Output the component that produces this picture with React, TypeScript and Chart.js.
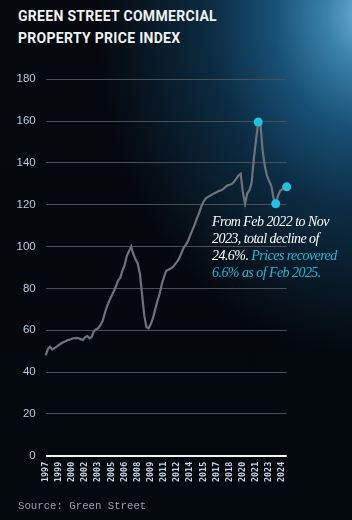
import React, { useEffect, useRef } from "react";
import { Chart, registerables } from "chart.js";

Chart.register(...registerables);

// Quarterly index values, Q3 1997 .. Q1 2025
const START_YEAR = 1997;
const START_QUARTER = 3;
const INDEX_VALUES = [
  48, 51, 52.2, 50.8, 51.5, 52.2, 53, 53.7, 54.3, 54.8,
  55.3, 55.6, 56, 56.2, 56.4, 56.2, 55.8, 55.4, 56.8, 57.3,
  56.2, 56.8, 59.5, 60.5, 61, 62.5, 64.5, 68.3, 71.5, 74,
  76.3, 78.5, 80.8, 83.8, 85, 88.5, 91, 95.5, 97.8, 100,
  96.5, 94, 92, 87, 77, 67, 61.5, 61, 63, 66,
  70, 74, 77.5, 82, 85.5, 88.5, 89, 89.5, 90.2, 91.5,
  92.8, 94.5, 97, 99.5, 101, 102.8, 105.5, 108, 110.5, 113.5,
  116, 119, 121.5, 123, 123.8, 124.3, 125, 125.5, 126, 126.6,
  127, 127.5, 128.5, 129.3, 129.6, 130, 131, 132.5, 134, 134.8,
  126, 120.5, 125.5, 127, 130.5, 142, 151, 159.6, 159, 146,
  138.5, 134, 131.3, 129, 123, 120.5, 124.2, 126.7, 127.5, 128, 128.6,
];
// Highlighted points: peak (Feb 2022), trough (Nov 2023), latest (Feb 2025)
const HIGHLIGHT_INDICES = [97, 105, 110];
// x-axis labels shown every 6 quarters
const TICK_STEP = 6;
const TICK_LABELS = [
  "1997", "1999", "2000", "2002", "2003", "2005", "2006", "2008", "2009", "2011",
  "2012", "2014", "2015", "2017", "2018", "2020", "2021", "2023", "2024",
];
const Y_TICKS = [0, 20, 40, 60, 80, 100, 120, 140, 160, 180];

const CATEGORIES: string[] = INDEX_VALUES.map((_, i) => {
  const q = START_QUARTER - 1 + i;
  return `${START_YEAR + Math.floor(q / 4)} Q${(q % 4) + 1}`;
});

export default function App() {
  const canvasRef = useRef<HTMLCanvasElement | null>(null);

  useEffect(() => {
    document.body.style.margin = "0";
    const canvas = canvasRef.current;
    if (!canvas) return;
    const chart = new Chart(canvas, {
      type: "line",
      data: {
        labels: CATEGORIES,
        datasets: [
          {
            data: INDEX_VALUES,
            borderColor: "#6f7379",
            borderWidth: 2.2,
            tension: 0,
            pointRadius: (ctx: any) => (HIGHLIGHT_INDICES.includes(ctx.dataIndex) ? 4.5 : 0),
            pointBackgroundColor: "#25bfe0",
            pointBorderWidth: 0,
            pointHoverRadius: 0,
          },
        ],
      },
      options: {
        animation: false,
        responsive: false,
        devicePixelRatio: 1,
        layout: { padding: { left: 6.5, right: 65.3, top: 79.3, bottom: 32 } },
        plugins: { legend: { display: false }, tooltip: { enabled: false } },
        scales: {
          x: {
            type: "category",
            offset: false,
            grid: { display: false, drawTicks: false },
            border: { display: false },
            ticks: {
              autoSkip: false,
              maxRotation: 90,
              minRotation: 90,
              padding: 6,
              color: "#c9d6e8",
              font: { family: "'DejaVu Sans Mono'", size: 8.4, weight: "bold" },
              callback: (_v: any, index: number) =>
                index % TICK_STEP === 0 ? TICK_LABELS[index / TICK_STEP] ?? "" : "",
            },
          },
          y: {
            min: 0,
            max: 180,
            afterBuildTicks: (axis: any) => {
              axis.ticks = Y_TICKS.map((v) => ({ value: v }));
            },
            grid: {
              drawTicks: false,
              color: (ctx: any) => (ctx.tick && ctx.tick.value === 0 ? "#f2f4f6" : "#4a4f55"),
              lineWidth: (ctx: any) => (ctx.tick && ctx.tick.value === 0 ? 2 : 1),
            },
            border: { display: false },
            ticks: {
              padding: 10,
              color: "#b9cbe2",
              font: { family: "'Liberation Sans'", size: 11.5 },
            },
          },
        },
      },
    });
    return () => chart.destroy();
  }, []);

  return (
    <div
      style={{
        position: "relative",
        width: 352,
        height: 520,
        overflow: "hidden",
        background:
          "radial-gradient(ellipse 270px 340px at 365px 15px, #6fb2d6 0%, #3a83aa 14%, #175075 34%, #0c2b42 58%, rgba(6,14,22,0) 100%), linear-gradient(180deg, #05080c 0%, #04090e 100%)",
      }}
    >
      <div
        style={{
          position: "absolute",
          left: 18,
          top: 6,
          fontFamily: "Roboto, 'Liberation Sans', sans-serif",
          fontWeight: 700,
          fontSize: 14,
          lineHeight: "21.7px",
          letterSpacing: 0.3,
          color: "#f1f2f3",
        }}
      >
        GREEN STREET COMMERCIAL
        <br />
        PROPERTY PRICE INDEX
      </div>
      <canvas
        ref={canvasRef}
        width={352}
        height={520}
        style={{ position: "absolute", left: 0, top: 0, width: 352, height: 520 }}
      />
      <div
        style={{
          position: "absolute",
          left: 212,
          top: 213,
          fontFamily: "'Liberation Serif', serif",
          fontStyle: "italic",
          fontSize: 14,
          lineHeight: "17px",
          letterSpacing: -0.55,
          color: "#ffffff",
          whiteSpace: "nowrap",
        }}
      >
        From Feb 2022 to Nov
        <br />
        2023, total decline of
        <br />
        24.6%. <span style={{ color: "#22b9da" }}>Prices recovered</span>
        <br />
        <span style={{ color: "#22b9da" }}>6.6% as of Feb 2025.</span>
      </div>
      <div
        style={{
          position: "absolute",
          left: 18,
          top: 500,
          fontFamily: "'Liberation Mono', monospace",
          fontSize: 10.7,
          color: "#98a1ab",
          whiteSpace: "nowrap",
        }}
      >
        Source: Green Street
      </div>
    </div>
  );
}
